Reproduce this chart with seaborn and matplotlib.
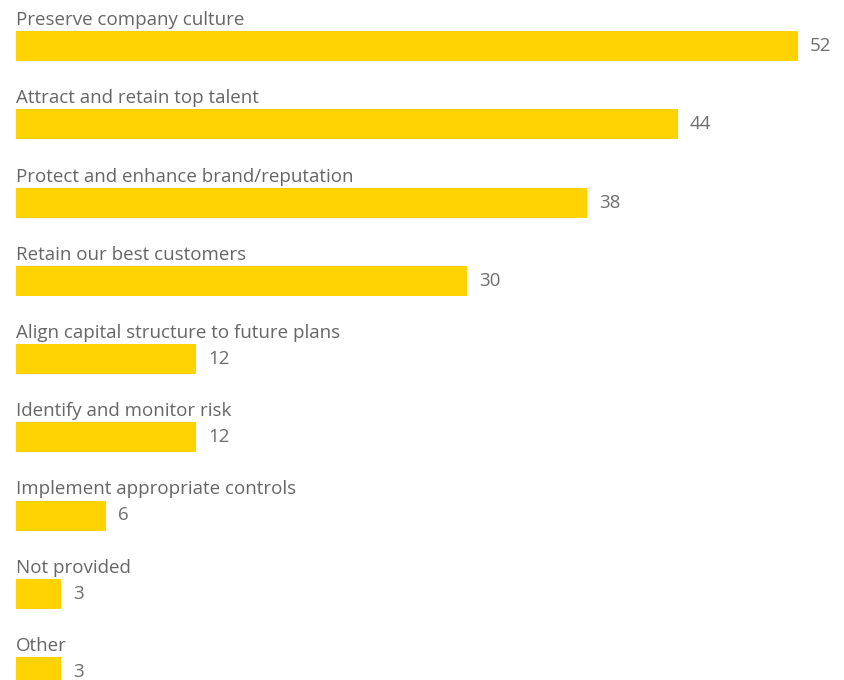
import numpy as np
import pandas as pd
import matplotlib
matplotlib.use('Agg')
import matplotlib.pyplot as plt
import seaborn as sns

categories = ['Preserve company culture',
              'Attract and retain top talent',
              'Protect and enhance brand/reputation',
              'Retain our best customers',
              'Align capital structure to future plans',
              'Identify and monitor risk',
              'Implement appropriate controls',
              'Not provided',
              'Other']
values = [52, 44, 38, 30, 12, 12, 6, 3, 3]

bar_color = '#FFD200'
text_color = '#6e6e6e'

sns.set_style('white')
plt.rcParams['font.family'] = ['Open Sans', 'DejaVu Sans']

df = pd.DataFrame({'Category': categories, 'Value': values})

W, H = 844, 680
fig = plt.figure(figsize=(W / 100, H / 100), dpi=100)
# axes covers from x=16px to right edge, full height
ax = fig.add_axes([16 / W, 0, 1 - 16 / W, 1])

bar_h = 30 / 78.25
sns.barplot(data=df, x='Value', y='Category', orient='h', color=bar_color,
            width=bar_h, saturation=1, linewidth=0, ax=ax)

px_per_unit = 782 / 52
ax.set_xlim(0, (W - 16) / px_per_unit)
pitch = 78.25
ax.set_ylim(8 + (H - 672) / pitch, -46 / pitch)

for i, (cat, v) in enumerate(zip(categories, values)):
    ax.text(0, i - bar_h / 2 - 6 / pitch, cat, ha='left', va='baseline',
            fontsize=13.5, color='#666666')
    ax.text(v + 12 / px_per_unit, i, str(v), ha='left', va='center',
            fontsize=13.5, color=text_color)

ax.set_axis_off()
fig.savefig('out.png', dpi=100)
